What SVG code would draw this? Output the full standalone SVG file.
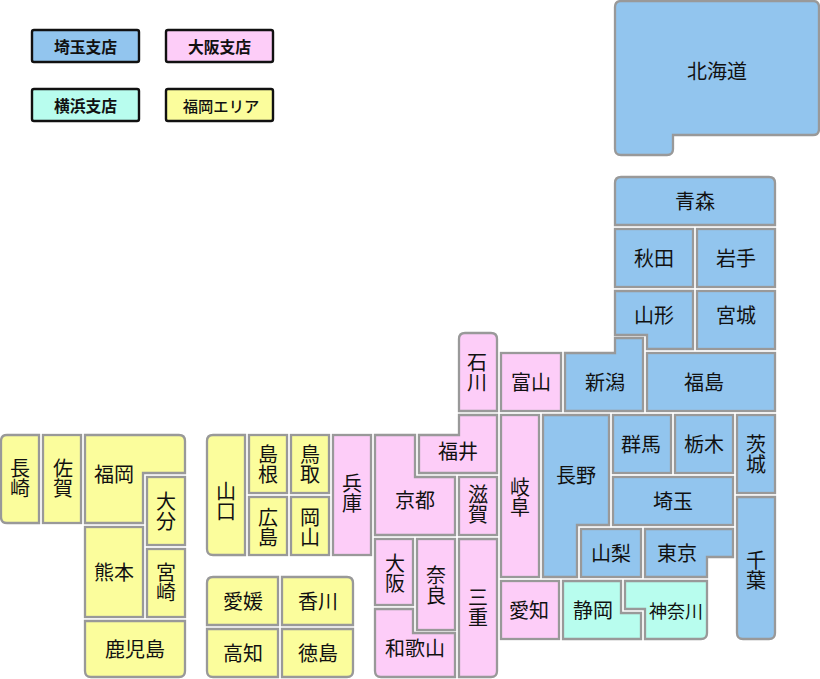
<svg xmlns="http://www.w3.org/2000/svg" width="820" height="679" viewBox="0 0 820 679">
<style>
.a{stroke:#999;stroke-width:2.3;stroke-linejoin:miter}
.b{fill:#92c5ee}.p{fill:#fdcdf8}.c{fill:#b8fdee}.y{fill:#fbfd9c}
.k{stroke:#111;stroke-width:2.4}
text{font-family:"Noto Sans CJK JP","Noto Sans",sans-serif;font-size:20px;fill:#111;text-anchor:middle}
.v{writing-mode:vertical-rl}
.l{font-size:15.8px;font-weight:700}
.m{font-size:15.3px;font-weight:500}
.s{font-size:18px}
</style>
<rect width="820" height="679" fill="#fff"/>
<g id="legend">
<g id="legend-saitama"><rect class="b k" x="32" y="30" width="107" height="32" rx="2"/><text class="l" x="85.500" y="52.500">埼玉支店</text></g>
<g id="legend-osaka"><rect class="p k" x="166" y="30" width="107" height="32" rx="2"/><text class="l" x="219.500" y="52.500">大阪支店</text></g>
<g id="legend-yokohama"><rect class="c k" x="32" y="89" width="107" height="32" rx="2"/><text class="l" x="85.500" y="111.500">横浜支店</text></g>
<g id="legend-fukuoka"><rect class="y k" x="166" y="89" width="107" height="32" rx="2"/><text class="m" x="221" y="111.500">福岡エリア</text></g>
</g>
<g id="hokkaido"><path class="a b" d="M621 1H813Q819 1 819 7V129Q819 135 813 135H673V149Q673 155 667 155H621Q615 155 615 149V7Q615 1 621 1Z"/><text x="717" y="79">北海道</text></g>
<g id="aomori"><path class="a b" d="M621 177H769Q775 177 775 183V225H615V183Q615 177 621 177Z"/><text x="695" y="209">青森</text></g>
<g id="akita"><rect class="a b" x="615" y="229" width="78" height="58"/><text x="654" y="266">秋田</text></g>
<g id="iwate"><rect class="a b" x="697" y="229" width="78" height="58"/><text x="736" y="266">岩手</text></g>
<g id="yamagata"><path class="a b" d="M615 291H693V349H647V335H615Z"/><text x="654" y="323">山形</text></g>
<g id="miyagi"><rect class="a b" x="697" y="291" width="78" height="58"/><text x="736" y="323">宮城</text></g>
<g id="niigata"><path class="a b" d="M615 338H643V411H565V353H615Z"/><text x="605" y="390">新潟</text></g>
<g id="fukushima"><rect class="a b" x="647" y="353" width="128" height="58"/><text x="704" y="390">福島</text></g>
<g id="gunma"><rect class="a b" x="613" y="415" width="58" height="58"/><text x="641" y="452">群馬</text></g>
<g id="tochigi"><rect class="a b" x="675" y="415" width="58" height="58"/><text x="704" y="452">栃木</text></g>
<g id="ibaraki"><rect class="a b" x="737" y="415" width="38" height="78"/><text class="v" x="756" y="454.500">茨城</text></g>
<g id="chiba"><path class="a b" d="M737 497H775V633Q775 639 769 639H743Q737 639 737 633Z"/><text class="v" x="756" y="570">千葉</text></g>
<g id="nagano"><path class="a b" d="M543 415H609V525H577V577H543Z"/><text x="576" y="483">長野</text></g>
<g id="saitama"><rect class="a b" x="613" y="477" width="120" height="48"/><text x="673" y="509">埼玉</text></g>
<g id="yamanashi"><rect class="a b" x="581" y="529" width="60" height="48"/><text x="611" y="561">山梨</text></g>
<g id="tokyo"><path class="a b" d="M645 529H733V557H707V577H645Z"/><text x="677" y="561">東京</text></g>
<g id="shizuoka"><path class="a c" d="M563 581H621V613H641V639H563Z"/><text x="593" y="618">静岡</text></g>
<g id="kanagawa"><path class="a c" d="M625 581H707V633Q707 639 701 639H645V609H625Z"/><text class="s" x="676" y="618">神奈川</text></g>
<g id="toyama"><rect class="a p" x="501" y="353" width="60" height="58"/><text x="531" y="390">富山</text></g>
<g id="ishikawa"><path class="a p" d="M465 333H491Q497 333 497 339V411H459V339Q459 333 465 333Z"/><text class="v" x="477" y="372">石川</text></g>
<g id="fukui"><path class="a p" d="M459 415H497V473H419V435H459Z"/><text x="458" y="459">福井</text></g>
<g id="gifu"><rect class="a p" x="501" y="415" width="38" height="162"/><text class="v" x="520" y="497">岐阜</text></g>
<g id="aichi"><rect class="a p" x="501" y="581" width="58" height="58"/><text x="529" y="618">愛知</text></g>
<g id="kyoto"><path class="a p" d="M375 435H415V477H455V535H375Z"/><text x="415" y="508">京都</text></g>
<g id="shiga"><rect class="a p" x="459" y="477" width="38" height="58"/><text class="v" x="478" y="504">滋賀</text></g>
<g id="mie"><path class="a p" d="M459 539H497V671Q497 677 491 677H459Z"/><text class="v" x="478" y="607">三重</text></g>
<g id="osaka"><rect class="a p" x="375" y="539" width="38" height="66"/><text class="v" x="395" y="573">大阪</text></g>
<g id="nara"><rect class="a p" x="417" y="539" width="38" height="91"/><text class="v" x="436" y="585">奈良</text></g>
<g id="wakayama"><path class="a p" d="M375 609H413V633H455V677H381Q375 677 375 671Z"/><text x="415" y="656">和歌山</text></g>
<g id="hyogo"><rect class="a p" x="333" y="435" width="38" height="120"/><text class="v" x="352" y="493">兵庫</text></g>
<g id="yamaguchi"><path class="a y" d="M213 435H245V555H213Q207 555 207 549V441Q207 435 213 435Z"/><text class="v" x="226" y="501.500">山口</text></g>
<g id="shimane"><rect class="a y" x="249" y="435" width="38" height="58"/><text class="v" x="268" y="464.500">島根</text></g>
<g id="tottori"><rect class="a y" x="291" y="435" width="38" height="58"/><text class="v" x="310" y="464.500">鳥取</text></g>
<g id="hiroshima"><rect class="a y" x="249" y="497" width="38" height="58"/><text class="v" x="268" y="527">広島</text></g>
<g id="okayama"><rect class="a y" x="291" y="497" width="38" height="58"/><text class="v" x="310" y="527">岡山</text></g>
<g id="ehime"><path class="a y" d="M213 577H278V625H207V583Q207 577 213 577Z"/><text x="243" y="609">愛媛</text></g>
<g id="kagawa"><path class="a y" d="M282 577H347Q353 577 353 583V625H282Z"/><text x="318" y="609">香川</text></g>
<g id="kochi"><path class="a y" d="M207 629H278V677H213Q207 677 207 671Z"/><text x="243" y="661">高知</text></g>
<g id="tokushima"><path class="a y" d="M282 629H353V671Q353 677 347 677H282Z"/><text x="318" y="661">徳島</text></g>
<g id="nagasaki"><path class="a y" d="M7 435H39V523H7Q1 523 1 517V441Q1 435 7 435Z"/><text class="v" x="20" y="478.500">長崎</text></g>
<g id="saga"><rect class="a y" x="43" y="435" width="38" height="88"/><text class="v" x="63" y="478.500">佐賀</text></g>
<g id="fukuoka"><path class="a y" d="M85 435H179Q185 435 185 441V473H143V523H85Z"/><text x="114" y="482">福岡</text></g>
<g id="oita"><rect class="a y" x="147" y="477" width="38" height="68"/><text class="v" x="166" y="511.500">大分</text></g>
<g id="miyazaki"><rect class="a y" x="147" y="549" width="38" height="68"/><text class="v" x="166" y="582.500">宮崎</text></g>
<g id="kumamoto"><rect class="a y" x="85" y="527" width="58" height="90"/><text x="114" y="580">熊本</text></g>
<g id="kagoshima"><path class="a y" d="M85 621H185V671Q185 677 179 677H91Q85 677 85 671Z"/><text x="135" y="657">鹿児島</text></g>
</svg>
